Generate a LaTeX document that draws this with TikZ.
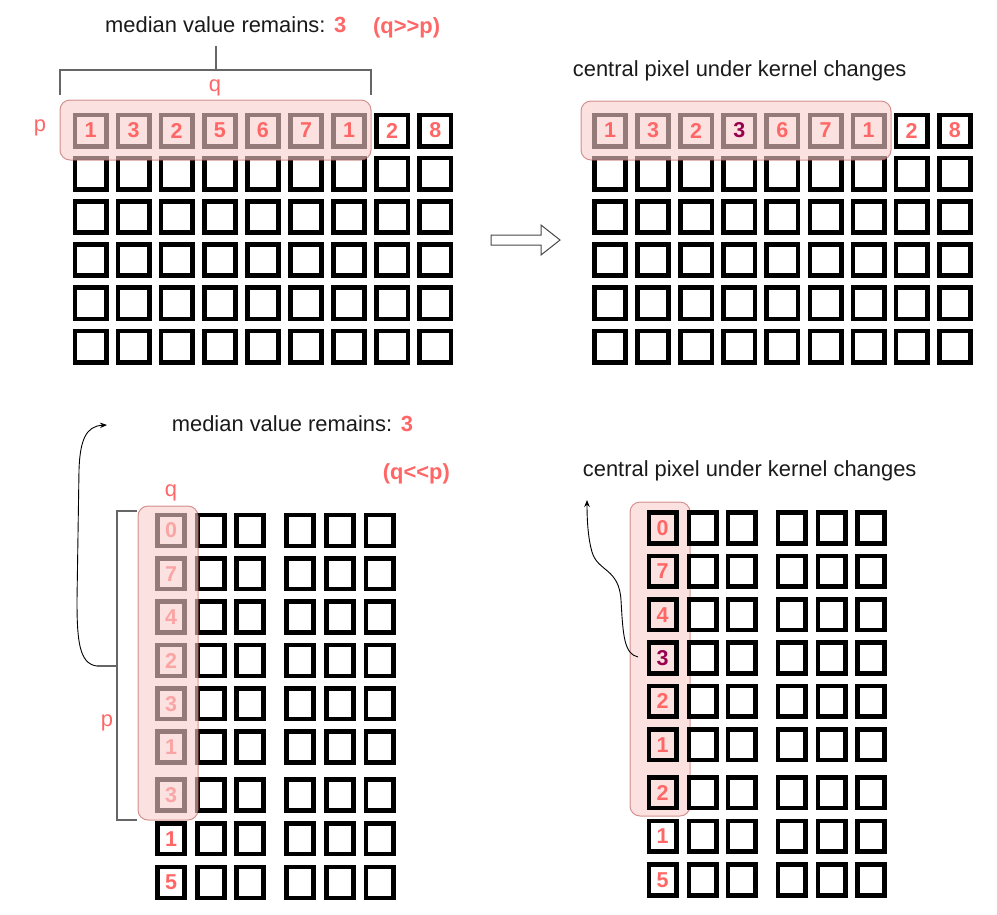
\documentclass[tikz,border=0pt]{standalone}
\usepackage{fontspec}
\setmainfont{Liberation Sans}
\usetikzlibrary{arrows.meta}

\definecolor{rot}{HTML}{FF6666}
\definecolor{lila}{HTML}{99004D}
\definecolor{kernfill}{HTML}{F8CECC}
\definecolor{kernrand}{HTML}{B85450}
\definecolor{grau}{HTML}{666666}
\definecolor{schrift}{HTML}{1A1A1A}

\tikzset{
  pix/.style={draw, line width=4.7pt, minimum width=31.3pt, minimum height=31.3pt, inner sep=0pt},
  pixk/.style={pix, minimum width=27.3pt, minimum height=30.8pt},
  ziffer/.style={inner sep=0pt, text=rot, font=\bfseries\fontsize{21.5}{21.5}\selectfont},
  kern/.style={draw=kernrand, fill=kernfill, opacity=0.6, line width=1pt, rounded corners=10pt},
  klammer/.style={draw=grau, line width=1.6pt},
  kurve/.style={draw=black, line width=0.9pt, -{Stealth[length=7pt,width=5.5pt]}},
  txt/.style={inner sep=0pt, anchor=base west, text=schrift, font=\fontsize{21.9}{26}\selectfont},
  rottxt/.style={txt, text=rot},
  wert/.style={rottxt, font=\bfseries\fontsize{21.9}{26}\selectfont},
}

\begin{document}
\begin{tikzpicture}[x=1pt, y=-1pt]
\useasboundingbox (0,0) rectangle (997,914);

% oben links: Bild mit Kern (q>>p)
\foreach \c in {0,...,8}
  \foreach \r in {0,...,5}
    \node[pix] (ol-\r-\c) at ({90.5+43.1*\c},{130.5+43.2*\r}) {};
\draw[kern] (60,100) rectangle (371,160); % Kern
\foreach \d [count=\c from 0] in {1,3,2,5,6,7,1,2,8}
  \node[ziffer] (ol-z-\c) at (ol-0-\c) {\d};
\draw[klammer] (60,95) |- (371,70) -- (371,95); % Klammer q
\draw[klammer] (215.7,70) -- (215.7,46);
\node[txt] (titel-ol) at (105,32.5) {median value remains:};
\node[wert] (wert-ol) at (334,32.5) {3};
\node[wert] (fall-ol) at (373,33) {(q>\kern0pt>p)};
\node[rottxt, anchor=base] (q-ol) at (215,91.7) {q};
\node[rottxt, anchor=base] (p-ol) at (40,131.7) {p};

% Pfeil
\draw[draw=grau!70!black, fill=white, line width=1pt] (491,235) -- (541,235) -- (541,225)
  -- (560,240) -- (541,255) -- (541,245) -- (491,245) -- cycle;

% oben rechts: Mittelpixel geaendert
\foreach \c in {0,...,8}
  \foreach \r in {0,...,5}
    \node[pix] (or-\r-\c) at ({610+43.1*\c},{130.5+43.2*\r}) {};
\draw[kern] (581,101) rectangle (891,160); % Kern
\foreach \d/\f [count=\c from 0] in {1/rot,3/rot,2/rot,3/lila,6/rot,7/rot,1/rot,2/rot,8/rot}
  \node[ziffer, text=\f] (or-z-\c) at (or-0-\c) {\d};
\node[txt] (titel-or) at (572.7,76) {central pixel under kernel changes};

% unten links: Bild mit Kern (q<<p)
\foreach \x [count=\c] in {171,211,250,300,340,379.5}
  \foreach \y [count=\r] in {530.5,573.7,617,660.5,703.7,747,795,838.7,882.5}
    \node[pixk] (ul-\r-\c) at (\x,\y) {};
\foreach \d [count=\r] in {0,7,4,2,3,1,3,1,5}
  \node[ziffer] (ul-z-\r) at (ul-\r-1) {\d};
\draw[kern] (138,506) rectangle (198,820); % Kern
\draw[klammer] (137,511) -| (117,820) -- (137,820); % Klammer p
\draw[klammer] (117,666) -- (97,666);
\coordinate (ul-mitte) at (97,666);
\coordinate (ul-spitze) at (107,425);
\draw[kurve] (ul-mitte) .. controls (79,664) and (77,640) .. (77,600) -- (79,470)
  .. controls (80,440) and (86,426) .. (ul-spitze);
\node[txt] (titel-ul) at (171.7,431.7) {median value remains:};
\node[wert] (wert-ul) at (400.7,431.7) {3};
\node[wert] (fall-ul) at (382.7,479) {(q<\kern0pt<p)};
\node[rottxt, anchor=base] (q-ul) at (171,496.7) {q};
\node[rottxt, anchor=base] (p-ul) at (107,726) {p};

% unten rechts: Mittelpixel geaendert
\draw[kern] (630,502) rectangle (690,816); % Kern
\begin{scope}[shift={(491.5,-2.4)}]
\foreach \x [count=\c] in {171,211,250,300,340,379.5}
  \foreach \y [count=\r] in {530.5,573.7,617,660.5,703.7,747,795,838.7,882.5}
    \node[pixk] (ur-\r-\c) at (\x,\y) {};
\end{scope}
\foreach \d/\f [count=\r] in {0/rot,7/rot,4/rot,3/lila,2/rot,1/rot,2/rot,1/rot,5/rot}
  \node[ziffer, text=\f] (ur-z-\r) at (ur-\r-1) {\d};
\coordinate (ur-start) at (638,657);
\coordinate (ur-spitze) at (587,500);
\draw[kurve] (ur-start) .. controls (624,654) and (623,635) .. (621,600)
  .. controls (619,568) and (598,572) .. (592,552)
  .. controls (588,538) and (587,520) .. (ur-spitze);
\node[txt] (titel-ur) at (582.7,476.7) {central pixel under kernel changes};
\end{tikzpicture}
\end{document}
